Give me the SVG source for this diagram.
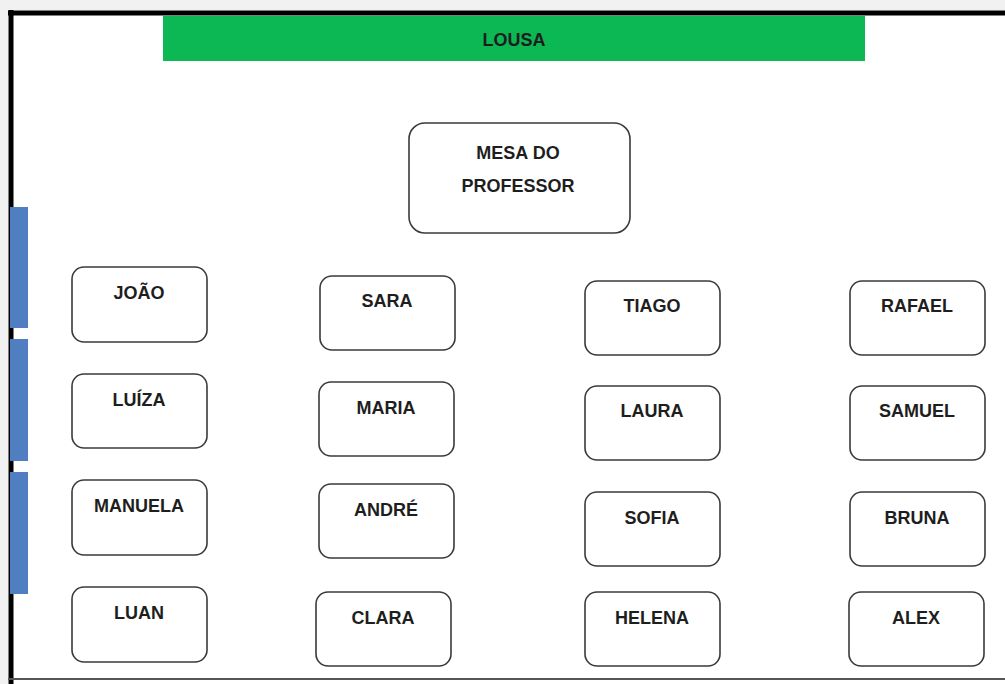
<svg xmlns="http://www.w3.org/2000/svg" width="1005" height="684" viewBox="0 0 1005 684">
<style>
.seat rect{fill:#fff;stroke:#3a3a3a;stroke-width:1.6}
text{font-family:"Liberation Sans",Arial,sans-serif;font-weight:bold;font-size:18px;fill:#1e1e1e;text-anchor:middle}
</style>
<rect x="0" y="0" width="1005" height="684" fill="#f1f1f1"/>
<rect x="8" y="10" width="997" height="674" fill="#fff"/>
<g id="frame">
<line x1="8" y1="13" x2="1005" y2="13" stroke="#000" stroke-width="5"/>
<line x1="11" y1="10" x2="11" y2="684" stroke="#000" stroke-width="5"/>
<line x1="8" y1="679" x2="1005" y2="679" stroke="#555" stroke-width="2"/>
</g>
<g id="lousa">
<rect x="163" y="16" width="702" height="45" fill="#0cb854"/>
<text x="514" y="46" font-size="17">LOUSA</text>
</g>
<g id="janelas" fill="#4f7fc0">
<rect x="10" y="207" width="18" height="121"/>
<rect x="10" y="339" width="18" height="122"/>
<rect x="10" y="472" width="18" height="122"/>
</g>
<g id="mesa" class="seat">
<rect x="409" y="123" width="221" height="110" rx="16"/>
<text x="518" y="159">MESA DO</text>
<text x="518" y="192">PROFESSOR</text>
</g>
<g id="joao" class="seat"><rect x="72" y="267" width="135" height="75" rx="12"/><text x="139" y="299">JOÃO</text></g>
<g id="luiza" class="seat"><rect x="72" y="374" width="135" height="74" rx="12"/><text x="139" y="406">LUÍZA</text></g>
<g id="manuela" class="seat"><rect x="72" y="480" width="135" height="75" rx="12"/><text x="139" y="512">MANUELA</text></g>
<g id="luan" class="seat"><rect x="72" y="587" width="135" height="75" rx="12"/><text x="139" y="619">LUAN</text></g>
<g id="sara" class="seat"><rect x="320" y="276" width="135" height="74" rx="12"/><text x="387" y="307">SARA</text></g>
<g id="maria" class="seat"><rect x="319" y="382" width="135" height="74" rx="12"/><text x="386" y="414">MARIA</text></g>
<g id="andre" class="seat"><rect x="319" y="484" width="135" height="74" rx="12"/><text x="386" y="516">ANDRÉ</text></g>
<g id="clara" class="seat"><rect x="316" y="592" width="135" height="74" rx="12"/><text x="383" y="624">CLARA</text></g>
<g id="tiago" class="seat"><rect x="585" y="281" width="135" height="74" rx="12"/><text x="652" y="312">TIAGO</text></g>
<g id="laura" class="seat"><rect x="585" y="386" width="135" height="74" rx="12"/><text x="652" y="417">LAURA</text></g>
<g id="sofia" class="seat"><rect x="585" y="492" width="135" height="74" rx="12"/><text x="652" y="524">SOFIA</text></g>
<g id="helena" class="seat"><rect x="585" y="592" width="135" height="74" rx="12"/><text x="652" y="624">HELENA</text></g>
<g id="rafael" class="seat"><rect x="850" y="281" width="135" height="74" rx="12"/><text x="917" y="312">RAFAEL</text></g>
<g id="samuel" class="seat"><rect x="850" y="386" width="135" height="74" rx="12"/><text x="917" y="417">SAMUEL</text></g>
<g id="bruna" class="seat"><rect x="850" y="492" width="135" height="74" rx="12"/><text x="917" y="524">BRUNA</text></g>
<g id="alex" class="seat"><rect x="849" y="592" width="135" height="74" rx="12"/><text x="916" y="624">ALEX</text></g>
<g id="connectors"/>
</svg>
